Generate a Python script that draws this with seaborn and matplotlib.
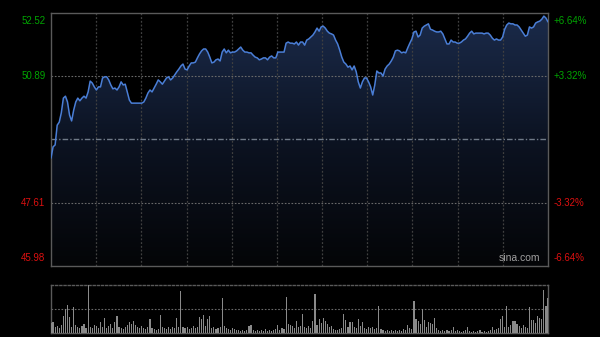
import numpy as np
import matplotlib
matplotlib.use("Agg")
import matplotlib.pyplot as plt
from matplotlib.colors import LinearSegmentedColormap
import seaborn as sns

# intraday price, one value per minute (9:30 -> 15:00)
prices = [
    48.77, 49.06, 49.11, 49.62, 49.70, 49.94, 50.32, 50.37, 50.22, 49.88,
    49.73, 50.01, 50.22, 50.32, 50.25, 50.32, 50.37, 50.32, 50.48, 50.76,
    50.71, 50.61, 50.53, 50.61, 50.61, 50.84, 50.87, 50.87, 50.79, 50.66,
    50.56, 50.58, 50.53, 50.61, 50.74, 50.66, 50.68, 50.48, 50.27, 50.19,
    50.19, 50.19, 50.19, 50.19, 50.19, 50.22, 50.32, 50.45, 50.53, 50.48,
    50.58, 50.68, 50.79, 50.74, 50.68, 50.76, 50.84, 50.87, 50.79, 50.84,
    50.92, 51.00, 51.07, 51.15, 51.20, 51.07, 51.05, 51.15, 51.23, 51.23,
    51.25, 51.36, 51.46, 51.54, 51.59, 51.59, 51.51, 51.38, 51.23, 51.25,
    51.31, 51.33, 51.28, 51.51, 51.59, 51.49, 51.56, 51.49, 51.51, 51.51,
    51.54, 51.59, 51.64, 51.56, 51.51, 51.51, 51.49, 51.49, 51.43, 51.38,
    51.36, 51.31, 51.33, 51.36, 51.36, 51.31, 51.38, 51.41, 51.36, 51.36,
    51.51, 51.51, 51.51, 51.51, 51.74, 51.77, 51.74, 51.74, 51.72, 51.77,
    51.69, 51.77, 51.77, 51.69, 51.82, 51.85, 51.90, 51.95, 52.03, 52.13,
    52.05, 52.16, 52.18, 52.13, 52.05, 52.00, 51.98, 51.95, 51.82, 51.72,
    51.56, 51.38, 51.25, 51.20, 51.12, 51.15, 51.05, 51.15, 51.00, 50.74,
    50.58, 50.74, 50.84, 50.84, 50.74, 50.61, 50.40, 50.66, 51.02, 50.97,
    50.97, 50.89, 51.07, 51.15, 51.20, 51.28, 51.38, 51.54, 51.56, 51.54,
    51.49, 51.51, 51.49, 51.62, 51.74, 51.85, 52.03, 52.05, 51.90, 51.95,
    52.13, 52.18, 52.21, 52.24, 52.10, 52.08, 52.05, 52.03, 52.03, 52.05,
    51.98, 51.85, 51.72, 51.72, 51.82, 51.77, 51.77, 51.74, 51.74, 51.77,
    51.82, 51.85, 51.92, 52.00, 52.05, 51.98, 52.00, 52.00, 52.00, 52.00,
    51.98, 52.00, 52.00, 51.95, 51.87, 51.82, 51.85, 51.82, 51.82, 51.90,
    52.10, 52.21, 52.26, 52.24, 52.24, 52.21, 52.21, 52.16, 52.08, 52.00,
    51.92, 51.95, 52.16, 52.13, 52.16, 52.26, 52.29, 52.31, 52.36, 52.44,
    52.39, 52.29,
]

# volume per minute (relative units)
volume = [
    10, 11, 6, 7, 5, 8, 17, 24, 28, 16,
    6, 26, 8, 6, 5, 7, 9, 5, 48, 6,
    5, 8, 7, 5, 11, 6, 15, 5, 7, 9,
    5, 11, 17, 6, 5, 4, 6, 8, 11, 9,
    12, 8, 6, 5, 7, 5, 4, 6, 14, 5,
    4, 3, 4, 18, 6, 5, 4, 6, 4, 6,
    5, 15, 6, 42, 6, 5, 6, 4, 5, 7,
    5, 6, 16, 14, 18, 7, 14, 17, 5, 6,
    4, 5, 6, 35, 7, 5, 4, 3, 5, 4,
    3, 3, 2, 3, 2, 3, 7, 8, 3, 2,
    3, 2, 3, 2, 4, 2, 3, 2, 3, 4,
    8, 3, 5, 4, 36, 9, 8, 7, 5, 12,
    6, 7, 19, 6, 5, 7, 5, 12, 39, 8,
    14, 10, 15, 12, 9, 6, 7, 4, 3, 3,
    4, 5, 19, 13, 6, 11, 11, 6, 5, 14,
    7, 11, 5, 4, 6, 5, 6, 4, 5, 27,
    4, 3, 2, 3, 2, 3, 2, 3, 2, 3,
    2, 4, 3, 8, 5, 4, 32, 14, 12, 9,
    24, 13, 6, 11, 10, 9, 15, 5, 3, 2,
    3, 2, 3, 2, 3, 6, 2, 3, 2, 1,
    2, 3, 6, 2, 1, 2, 1, 2, 3, 1,
    2, 1, 2, 3, 6, 3, 4, 5, 14, 17,
    6, 27, 6, 8, 12, 12, 9, 7, 5, 8,
    6, 5, 26, 13, 13, 10, 17, 15, 14, 43,
    27, 35,
]

minutes = list(range(len(prices)))

# axis labels
left_labels = ["52.52", "50.89", "47.61", "45.98"]
right_labels = ["+6.64%", "+3.32%", "-3.32%", "-6.64%"]
label_values = [52.52, 50.89, 47.61, 45.98]
prev_close = 49.25
y_min, y_max = 45.98, 52.52
n_min = 241

sns.set_theme(style="dark")
plt.rcParams["font.family"] = ["Liberation Sans", "DejaVu Sans"]

fig = plt.figure(figsize=(6, 3.37), dpi=100, facecolor="black")
ax = fig.add_axes([51 / 600, 1 - 266 / 337, 497 / 600, 253 / 337])
ax_vol = fig.add_axes([51 / 600, 1 - 333 / 337, 497 / 600, 48 / 337])

for a in (ax, ax_vol):
    a.set_facecolor("black")
    a.set_xticks([])
    a.set_yticks([])
    for s in a.spines.values():
        s.set_color("#5a5a5a")
        s.set_linewidth(1)

# --- price panel ---
ax.set_xlim(0, n_min)
ax.set_ylim(y_min, y_max)

grad_cmap = LinearSegmentedColormap.from_list("g", ["#040507", "#0c1322", "#1b2b4b"])
grad = np.linspace(0, 1, 256).reshape(-1, 1)
im = ax.imshow(grad, extent=[0, n_min, y_min, y_max], origin="lower",
               aspect="auto", cmap=grad_cmap, zorder=1)
poly = ax.fill_between(minutes, prices, y_min, color="none", zorder=1)
im.set_clip_path(poly.get_paths()[0], transform=ax.transData)

for xv in np.linspace(0, n_min, 12)[1:-1]:
    ax.axvline(xv, color="#404040", lw=0.9, ls=(0, (1.5, 1.5)), zorder=2)
for yv in (50.89, 47.61):
    ax.axhline(yv, color="#6a6a6a", lw=0.8, ls=(0, (1.5, 1.5)), zorder=2)
ax.axhline(prev_close, color="#707a88", lw=1.0, ls=(0, (4, 1.5, 1, 1.5)), zorder=2)

sns.lineplot(x=minutes, y=prices, ax=ax, color="#4a7ed6", linewidth=1.1, zorder=3)
ax.set_xlabel("")
ax.set_ylabel("")

green, red = "#00a400", "#dd1010"
vas = ["top", "center", "center", "bottom"]
offs = [-2, 0, 0, 2]
for lab_l, lab_r, v, va, off in zip(left_labels, right_labels, label_values, vas, offs):
    c = green if v > prev_close else red
    ax.annotate(lab_l, (0, v), xycoords=("axes fraction", "data"),
                xytext=(-4, off), textcoords="offset points",
                ha="right", va=va, color=c, fontsize=7)
    ax.annotate(lab_r, (1, v), xycoords=("axes fraction", "data"),
                xytext=(4, off), textcoords="offset points",
                ha="left", va=va, color=c, fontsize=7)

ax.text(0.985, 0.012, "sina.com", transform=ax.transAxes, ha="right", va="bottom",
        color="#a0a0a0", fontsize=7.5, zorder=4)

# --- volume panel ---
sns.barplot(x=minutes, y=volume, ax=ax_vol, native_scale=True, color="#8a8a8a",
            saturation=1, width=0.55, errorbar=None, linewidth=0, edgecolor="none",
            zorder=3)
ax_vol.set_xlim(0, n_min)
ax_vol.set_ylim(0, 48)
ax_vol.set_xlabel("")
ax_vol.set_ylabel("")
ax_vol.set_xticks([])
ax_vol.set_yticks([])
ax_vol.spines["top"].set_linestyle((0, (1.5, 1.5)))
ax_vol.axhline(24, color="#6a6a6a", lw=0.8, ls=(0, (1.5, 1.5)), zorder=2)

fig.savefig("out.png", dpi=100, facecolor="black")
